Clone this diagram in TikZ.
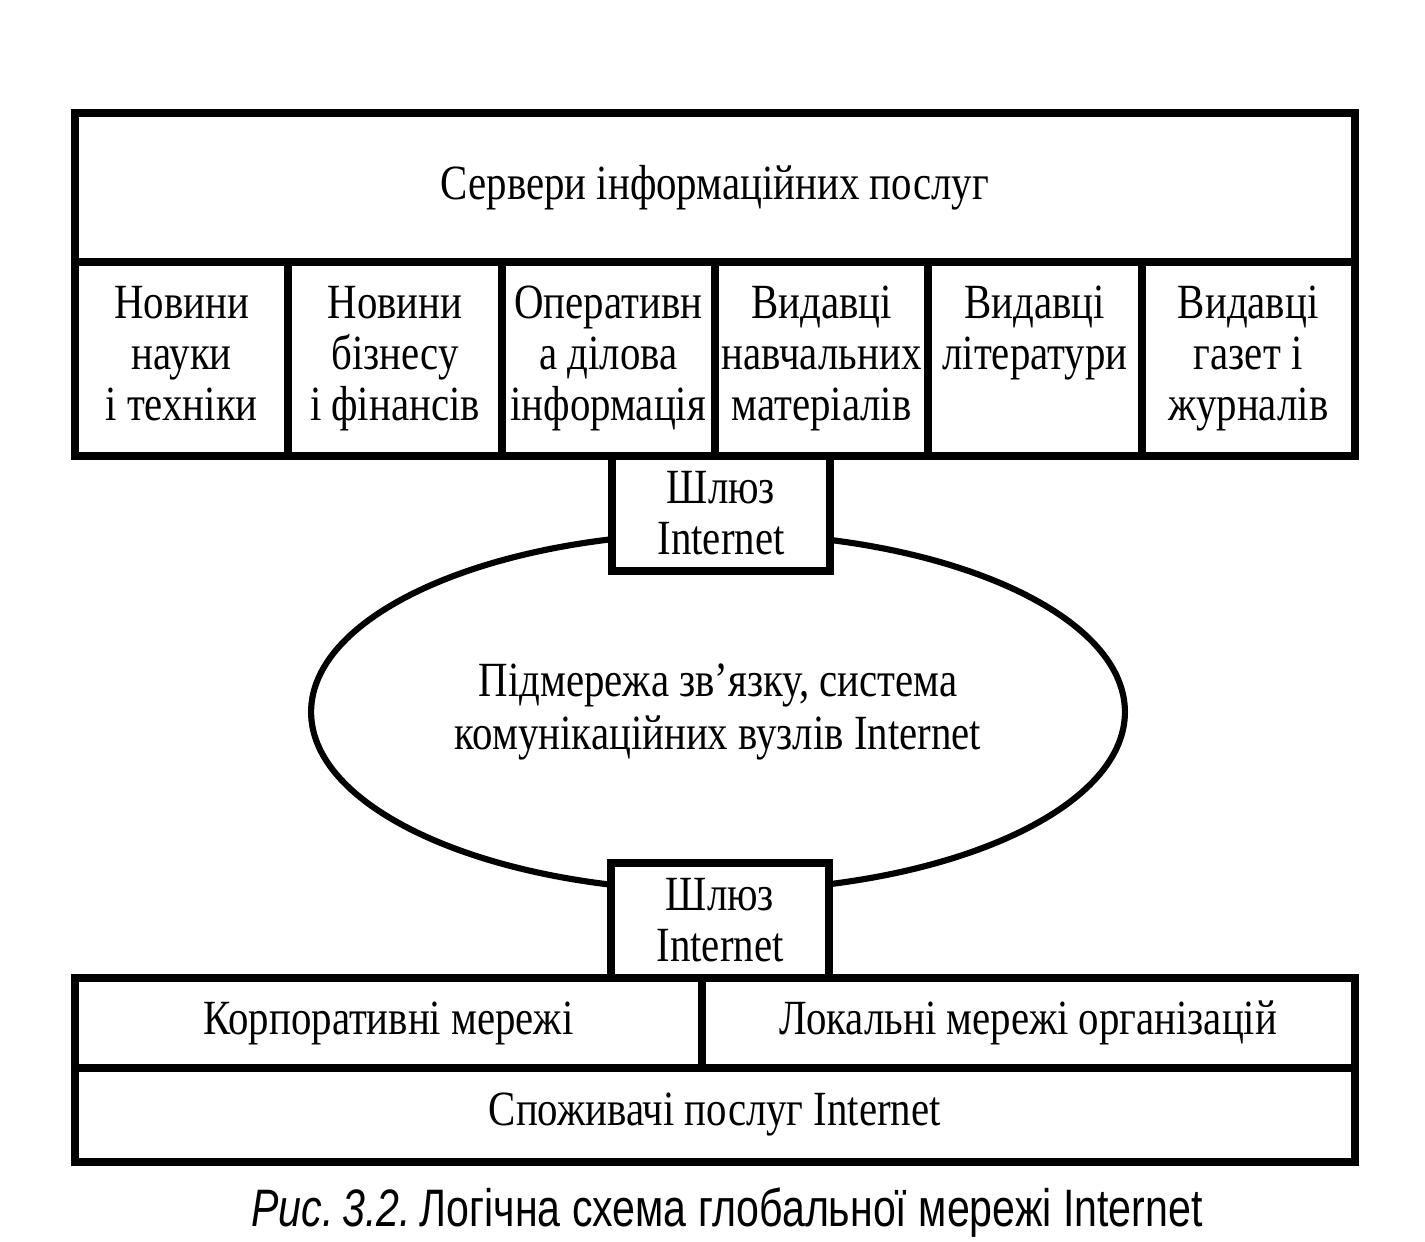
\documentclass[tikz,border=0pt]{standalone}
\usepackage{fontspec}
\setmainfont{Liberation Serif}[FakeStretch=0.83]
\newfontfamily\podpis{Liberation Sans}[FakeStretch=0.78]
\usepackage{tikz}
\usetikzlibrary{positioning,shapes.geometric}
\newcommand{\trzy}[3]{#1\strut\\#2\strut\\#3\strut}

\begin{document}
\begin{tikzpicture}[x=0.02cm,y=-0.02cm, node distance=0pt]
\tikzset{
    %styl prostokata
    blok/.style={
           rectangle,
           line width=4.5pt,draw=black,
           outer sep=0pt, inner sep=2pt,
           align=center,
           font=\fontsize{28}{29}\selectfont},
    punkt/.style={
           blok,
           minimum width=4.267cm,
           minimum height=3.88cm},
    szluz/.style={
           blok,
           fill=white,
           minimum width=4.36cm,
           minimum height=2.3cm},
    owal/.style={
           ellipse,
           line width=3.5pt,draw=black,
           align=center,
           minimum width=16.28cm,
           minimum height=7.16cm,
           font=\fontsize{28}{30}\selectfont}
}
\useasboundingbox (0,0) rectangle (1425,1241);

%NODy
\node(serwery)    [blok,anchor=north west,minimum width=25.6cm,minimum height=2.98cm] at (75,113) {Сервери інформаційних послуг};
\node(nauka)      [punkt,below right=0pt and 0pt of serwery.south west] {\trzy{Новини}{науки}{і техніки}};
\node(biznes)     [punkt,right=of nauka]      {\trzy{Новини}{бізнесу}{і фінансів}};
\node(operatyvna) [punkt,right=of biznes]     {\trzy{Оперативн}{а ділова}{інформація}};
\node(navch)      [punkt,right=of operatyvna] {\trzy{Видавці}{навчальних}{матеріалів}};
\node(literatura) [punkt,right=of navch]      {\trzy{Видавці}{літератури}{}};
\node(gazety)     [punkt,right=of literatura] {\trzy{Видавці}{газет і}{журналів}};

%Pidmereza
\node(pidmereza)  [owal] at (718,712) {Підмережа зв’язку, система\\комунікаційних вузлів Internet};
\node(szluzg)     [szluz,anchor=north] at (721,456) {Шлюз\\Internet};
\node(szluzd)     [szluz,anchor=south] at (720,978) {Шлюз\\Internet};

%Spozywacze
\node(korp)       [blok,anchor=north west,minimum width=12.54cm,minimum height=1.8cm] at (75,978) {Корпоративні мережі};
\node(lokalne)    [blok,right=of korp,minimum width=13.06cm,minimum height=1.8cm] {Локальні мережі організацій};
\node(spozywacze) [blok,below right=0pt and 0pt of korp.south west,minimum width=25.6cm,minimum height=1.88cm] {Споживачі послуг Internet};

\node(podpis)     [font=\podpis\fontsize{30}{32}\selectfont] at (727,1213) {\textit{Рис.\,3.2.}\,Логічна схема глобальної мережі Internet};
\end{tikzpicture}
\end{document}
